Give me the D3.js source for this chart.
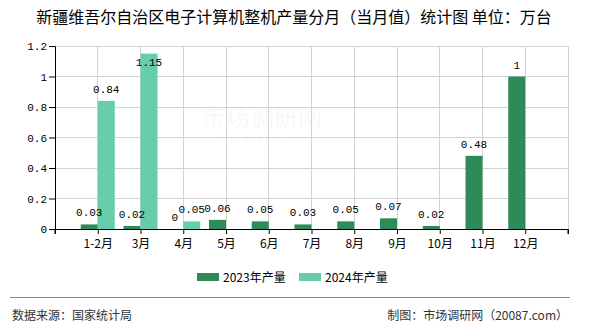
<!DOCTYPE html>
<html><head><meta charset="utf-8">
<script src="https://cdn.jsdelivr.net/npm/d3@7"></script>
<style>body{margin:0;background:#fff}svg{display:block}</style>
</head><body>
<script>
const categories = ["1-2月","3月","4月","5月","6月","7月","8月","9月","10月","11月","12月"];
const seriesNames = ["2023年产量","2024年产量"];
const values2023 = [0.03,0.02,0,0.06,0.05,0.03,0.05,0.07,0.02,0.48,1];
const values2024 = [0.84,1.15,0.05,null,null,null,null,null,null,null,null];
const yTicks = [0,0.2,0.4,0.6,0.8,1,1.2];
const colors = ["#2e8b57","#66cdaa"];

const W=590,H=330;
const svg=d3.select("body").append("svg").attr("width",W).attr("height",H);
const pL=55,pR=568,pT=46,pB=229;
const x=d3.scalePoint().domain(categories).range([pL,pR]).padding(1);
const y=d3.scaleLinear().domain([0,1.2]).range([pB,pT]);
const sub=d3.scaleBand().domain(["a","b"]).range([-17,17]);
const numFont="'Liberation Mono', monospace";
const cjk="'Noto Sans CJK SC','Noto Sans',sans-serif";

// title
svg.append("text").attr("x",294).attr("y",23).attr("text-anchor","middle")
  .attr("font-family",cjk).attr("font-size",16).attr("fill","#000")
  .text("新疆维吾尔自治区电子计算机整机产量分月（当月值）统计图 单位：万台");

// watermark
svg.append("text").attr("x",262).attr("y",126).attr("text-anchor","middle")
  .attr("font-family",cjk).attr("font-size",24).attr("fill","#000").attr("opacity",0.025).text("市场调研网");
svg.append("text").attr("x",262).attr("y",141).attr("text-anchor","middle")
  .attr("font-family",numFont).attr("font-size",7).attr("fill","#000").attr("opacity",0.03).attr("letter-spacing",3).text("www.20087.com");

// grid
const g=svg.append("g");
g.selectAll("line.h").data(yTicks.filter(d=>d>0)).enter().append("line")
  .attr("x1",pL).attr("x2",pR).attr("y1",d=>y(d)).attr("y2",d=>y(d))
  .attr("stroke","#d3d3d3").attr("stroke-width",1).attr("shape-rendering","crispEdges");
g.selectAll("line.v").data(categories).enter().append("line")
  .attr("x1",d=>x(d)).attr("x2",d=>x(d)).attr("y1",pT).attr("y2",pB)
  .attr("stroke","#d3d3d3").attr("stroke-width",1).attr("shape-rendering","crispEdges");
g.append("line").attr("x1",pR).attr("x2",pR).attr("y1",pT).attr("y2",pB)
  .attr("stroke","#d3d3d3").attr("shape-rendering","crispEdges");

// bars
const series=[values2023,values2024];
const barsG=svg.append("g"), labelsG=svg.append("g");
series.forEach((vals,si)=>{
  const data=categories.map((c,i)=>({c,v:vals[i]})).filter(d=>d.v!==null);
  barsG.append("g").selectAll("rect").data(data).enter().append("rect")
    .attr("x",d=>x(d.c)+sub(si?"b":"a")).attr("width",sub.bandwidth())
    .attr("y",d=>y(d.v)).attr("height",d=>pB-y(d.v))
    .attr("fill",colors[si]);
  labelsG.append("g").selectAll("text").data(data).enter().append("text")
    .attr("x",d=>x(d.c)+sub(si?"b":"a")+sub.bandwidth()/2)
    .attr("y",d=>Math.max(y(d.v)-8,66))
    .attr("text-anchor","middle").attr("font-family",numFont).attr("font-size",11).attr("fill","#000")
    .text(d=>d.v);
});

// axes
const yAxis=d3.axisLeft(y).tickValues(yTicks).tickSize(6).tickFormat(d=>d);
const ya=svg.append("g").attr("transform",`translate(${pL},0)`).call(yAxis);
ya.select(".domain").attr("stroke","#000");
ya.selectAll("text").attr("font-family",numFont).attr("font-size",11).attr("fill","#000").attr("x",-8);
const xAxis=d3.axisBottom(x).tickSize(5).tickSizeOuter(5);
const xa=svg.append("g").attr("transform",`translate(0,${pB})`).call(xAxis);
xa.select(".domain").attr("stroke","#000");
xa.selectAll("text").attr("font-family",cjk).attr("font-size",12).attr("fill","#000").attr("dy","0.9em");
xa.append("line").attr("x1",pL).attr("x2",pL).attr("y1",0).attr("y2",5).attr("stroke","#000");
xa.append("line").attr("x1",pR).attr("x2",pR).attr("y1",0).attr("y2",5).attr("stroke","#000");

// legend
const lg=svg.append("g");
const lx=[197,299];
seriesNames.forEach((n,i)=>{
  lg.append("rect").attr("x",lx[i]).attr("y",273).attr("width",22).attr("height",8).attr("fill",colors[i]);
  lg.append("text").attr("x",lx[i]+26).attr("y",281.5).attr("font-family",cjk).attr("font-size",12).attr("fill","#000").text(n);
});

// footer
svg.append("line").attr("x1",10).attr("x2",570).attr("y1",297.5).attr("y2",297.5).attr("stroke","#888").attr("stroke-width",1);
svg.append("text").attr("x",12).attr("y",320).attr("font-family",cjk).attr("font-size",12).attr("fill","#333").text("数据来源：国家统计局");
svg.append("text").attr("x",568).attr("y",320).attr("text-anchor","end").attr("font-family",cjk).attr("font-size",12).attr("fill","#333").text("制图：市场调研网（20087.com）");
</script>
</body></html>
